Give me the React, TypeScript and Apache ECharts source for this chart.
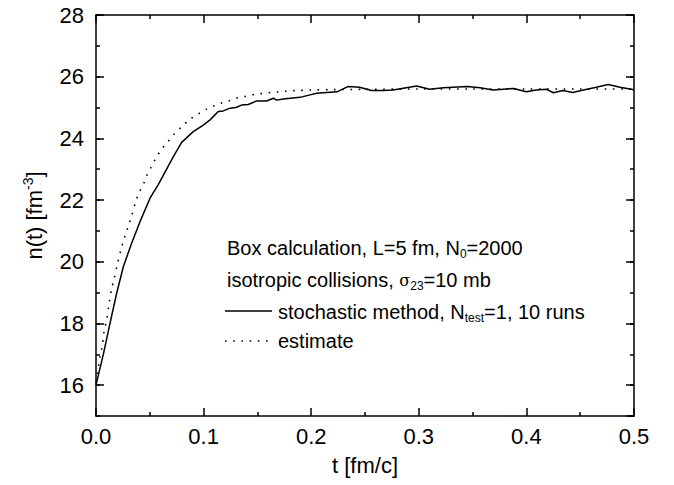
import React, { useEffect, useRef } from "react";
import * as echarts from "echarts";

// stochastic method, N_test=1, 10 runs
const tSolid = [0, 0.0068, 0.013, 0.0192, 0.0254, 0.0331, 0.0409, 0.0502, 0.058, 0.064, 0.0719, 0.0796, 0.0904, 0.0997, 0.106, 0.1136, 0.1183, 0.1245, 0.13, 0.1353, 0.1415, 0.149, 0.1586, 0.1648, 0.168, 0.174, 0.1896, 0.199, 0.205, 0.224, 0.234, 0.245, 0.256, 0.267, 0.276, 0.298, 0.31, 0.323, 0.345, 0.357, 0.369, 0.388, 0.4, 0.409, 0.419, 0.425, 0.434, 0.443, 0.453, 0.465, 0.476, 0.487, 0.5];
const nSolid = [16.0, 17.0, 18.0, 18.98, 19.84, 20.6, 21.3, 22.06, 22.51, 22.9, 23.41, 23.87, 24.22, 24.43, 24.6, 24.87, 24.89, 24.98, 25.0, 25.08, 25.1, 25.21, 25.21, 25.3, 25.24, 25.28, 25.33, 25.41, 25.46, 25.51, 25.68, 25.66, 25.55, 25.55, 25.57, 25.7, 25.59, 25.64, 25.68, 25.64, 25.57, 25.62, 25.51, 25.57, 25.59, 25.48, 25.55, 25.49, 25.57, 25.66, 25.75, 25.66, 25.58];

// estimate
const tEst = [0, 0.0021, 0.0037, 0.0059, 0.0077, 0.0099, 0.0121, 0.0146, 0.0167, 0.0201, 0.0238, 0.026, 0.0285, 0.031, 0.0331, 0.0378, 0.0409, 0.0446, 0.0477, 0.0518, 0.0558, 0.0604, 0.0663, 0.0725, 0.0796, 0.0874, 0.095, 0.1022, 0.11, 0.1174, 0.1251, 0.1323, 0.14, 0.1478, 0.1555, 0.1633, 0.171, 0.178, 0.1855, 0.2, 0.22, 0.25, 0.3, 0.35, 0.4, 0.45, 0.5];
const nEst = [16.1, 16.55, 16.92, 17.3, 17.79, 18.11, 18.63, 19.14, 19.43, 19.95, 20.47, 20.73, 21.0, 21.25, 21.49, 22.04, 22.3, 22.56, 22.84, 23.1, 23.37, 23.62, 23.87, 24.13, 24.38, 24.62, 24.79, 24.94, 25.06, 25.16, 25.23, 25.32, 25.37, 25.43, 25.46, 25.49, 25.51, 25.54, 25.55, 25.57, 25.58, 25.59, 25.6, 25.6, 25.6, 25.6, 25.6];

const xTickLabels = ["0.0", "0.1", "0.2", "0.3", "0.4", "0.5"];
const yTickLabels = ["16", "18", "20", "22", "24", "26", "28"];

const FONT = "'Liberation Sans', Arial, sans-serif";

export default function App() {
  const ref = useRef<HTMLDivElement>(null);
  useEffect(() => {
    if (!ref.current) return;
    const chart = echarts.init(ref.current, null, { renderer: "svg" });
    const black = "#000";
    const grid = { left: 96, right: 40, top: 15, bottom: 69 };
    const lineStyle = { color: black, width: 1.5 };
    const xCommon = {
      type: "value" as const,
      min: 0,
      max: 0.5,
      interval: 0.1,
      splitLine: { show: false },
      axisLine: { show: true, onZero: false, lineStyle },
      axisTick: { show: true, inside: true, length: 8, lineStyle },
      minorTick: { show: true, splitNumber: 2, length: 4, lineStyle },
    };
    const yCommon = {
      type: "value" as const,
      min: 15,
      max: 28,
      splitNumber: 6,
      splitLine: { show: false },
      axisLine: { show: true, onZero: false, lineStyle },
      axisTick: { show: true, inside: true, length: 8, lineStyle },
    };
    const yMinor = {
      type: "value" as const,
      min: 15,
      max: 28,
      interval: 1,
      gridIndex: 1,
      splitLine: { show: false },
      axisLine: { show: false },
      axisLabel: { show: false },
      axisTick: { show: true, inside: true, length: 4, lineStyle },
    };
    const rich = {
      a: { fontSize: 20, fontFamily: FONT, color: black, lineHeight: 24 },
      sub: { fontSize: 12, fontFamily: FONT, color: black, lineHeight: 12, padding: [19, 0, 0, 0], verticalAlign: "bottom" },
      g: { fontSize: 16, fontFamily: "'DejaVu Serif', serif", color: black, lineHeight: 24 },
    };
    const legendX = 227;
    chart.setOption({
      animation: false,
      backgroundColor: "#fff",
      grid: [grid, grid],
      xAxis: [
        {
          ...xCommon,
          gridIndex: 0,
          position: "bottom",
          axisLabel: {
            fontSize: 22,
            fontFamily: FONT,
            color: black,
            margin: 9,
            formatter: (v: number) => xTickLabels[Math.round(v * 10)] ?? "",
          },
          name: "t [fm/c]",
          nameLocation: "middle",
          nameGap: 38,
          nameTextStyle: { fontSize: 22, fontFamily: FONT, color: black },
        },
        { ...xCommon, gridIndex: 0, position: "top", axisLabel: { show: false } },
        { type: "value", gridIndex: 1, min: 0, max: 0.5, show: false },
      ],
      yAxis: [
        {
          ...yCommon,
          gridIndex: 0,
          position: "left",
          axisLabel: {
            fontSize: 22,
            fontFamily: FONT,
            color: black,
            margin: 12,
            showMinLabel: false,
            formatter: (v: number) => (Number.isInteger(v) && v % 2 === 0 ? yTickLabels[(v - 16) / 2] ?? "" : ""),
          },
          name: "{a|n(t) [fm}{sup|-3}{a|]}",
          nameLocation: "middle",
          nameGap: 49,
          nameTextStyle: {
            rich: {
              a: { fontSize: 22, fontFamily: FONT, color: black, lineHeight: 26 },
              sup: { fontSize: 14, fontFamily: FONT, color: black, lineHeight: 14, padding: [0, 0, 12, 0], verticalAlign: "top" },
            },
          },
        },
        { ...yCommon, gridIndex: 0, position: "right", axisLabel: { show: false } },
        { ...yMinor, position: "left" },
        { ...yMinor, position: "right" },
      ],
      series: [
        {
          type: "line",
          name: "stochastic",
          xAxisIndex: 0,
          yAxisIndex: 0,
          data: tSolid.map((t, i) => [t, nSolid[i]]),
          showSymbol: false,
          lineStyle: { color: black, width: 1.5 },
        },
        {
          type: "line",
          name: "estimate",
          xAxisIndex: 0,
          yAxisIndex: 0,
          data: tEst.map((t, i) => [t, nEst[i]]),
          showSymbol: false,
          smooth: 0.3,
          lineStyle: { color: black, width: 1.6, type: [1.6, 6.6] },
        },
      ],
      graphic: [
        {
          type: "text",
          x: legendX,
          y: 248,
          style: { text: "{a|Box calculation, L=5 fm, N}{sub|0}{a|=2000}", rich, verticalAlign: "middle" },
        },
        {
          type: "text",
          x: legendX,
          y: 280,
          style: { text: "{a|isotropic collisions, }{g|σ}{sub|23}{a|=10 mb}", rich, verticalAlign: "middle" },
        },
        {
          type: "line",
          shape: { x1: 225, y1: 311, x2: 272, y2: 311 },
          style: { stroke: black, lineWidth: 1.5 },
        },
        {
          type: "text",
          x: 278,
          y: 312,
          style: { text: "{a|stochastic method, N}{sub|test}{a|=1, 10 runs}", rich, verticalAlign: "middle" },
        },
        {
          type: "line",
          shape: { x1: 225, y1: 341, x2: 270, y2: 341 },
          style: { stroke: black, lineWidth: 1.6, lineDash: [1.6, 6.6] },
        },
        {
          type: "text",
          x: 278,
          y: 341,
          style: { text: "{a|estimate}", rich, verticalAlign: "middle" },
        },
      ],
    });
    return () => chart.dispose();
  }, []);
  return <div ref={ref} style={{ width: 674, height: 485, position: "absolute", left: 0, top: 0 }} />;
}
